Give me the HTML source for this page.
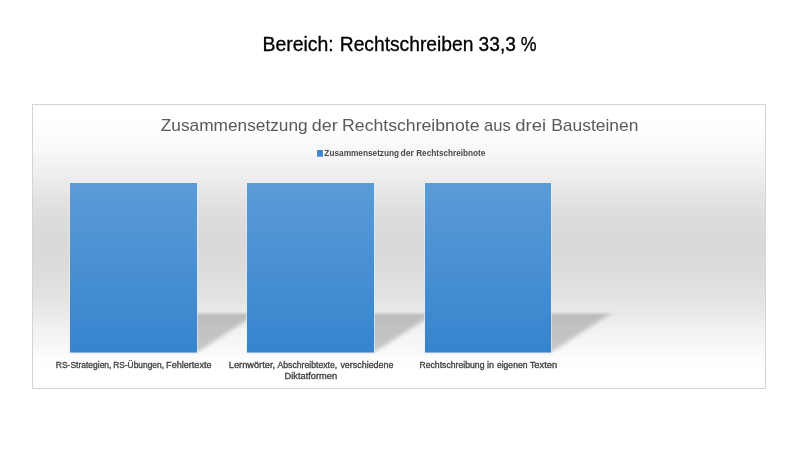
<!DOCTYPE html>
<html lang="de">
<head>
<meta charset="utf-8">
<title>Bereich: Rechtschreiben 33,3 %</title>
<style>
html,body{margin:0;padding:0;background:#fff;}
body{width:807px;height:475px;overflow:hidden;position:relative;font-family:"Liberation Sans",sans-serif;}
svg{position:absolute;left:0;top:0;display:block;}
text{font-family:"Liberation Sans",sans-serif;}
</style>
</head>
<body>
<svg width="807" height="475" viewBox="0 0 807 475">
  <defs>
    <linearGradient id="bg" gradientUnits="userSpaceOnUse" x1="0" y1="105" x2="0" y2="388">
      <stop offset="0" stop-color="#ffffff"/>
      <stop offset="0.0530" stop-color="#ffffff"/>
      <stop offset="0.1060" stop-color="#fcfcfc"/>
      <stop offset="0.1590" stop-color="#f8f8f8"/>
      <stop offset="0.2120" stop-color="#f2f2f2"/>
      <stop offset="0.2650" stop-color="#ececec"/>
      <stop offset="0.3180" stop-color="#e5e5e5"/>
      <stop offset="0.3710" stop-color="#dfdfdf"/>
      <stop offset="0.4240" stop-color="#dbdbdb"/>
      <stop offset="0.4770" stop-color="#dadada"/>
      <stop offset="0.5300" stop-color="#dadada"/>
      <stop offset="0.5830" stop-color="#dcdcdc"/>
      <stop offset="0.6360" stop-color="#e0e0e0"/>
      <stop offset="0.6890" stop-color="#e4e4e4"/>
      <stop offset="0.7420" stop-color="#ebebeb"/>
      <stop offset="0.7950" stop-color="#f2f2f2"/>
      <stop offset="0.8480" stop-color="#f7f7f7"/>
      <stop offset="0.9010" stop-color="#fdfdfd"/>
      <stop offset="0.9540" stop-color="#ffffff"/>
      <stop offset="1" stop-color="#ffffff"/>
    </linearGradient>
    <linearGradient id="bar" x1="0" y1="0" x2="0" y2="1">
      <stop offset="0" stop-color="#5b9bd7"/>
      <stop offset="1" stop-color="#3684ce"/>
    </linearGradient>
    <filter id="blur" x="-30%" y="-30%" width="160%" height="160%">
      <feGaussianBlur stdDeviation="3"/>
    </filter>
    <filter id="blur2" filterUnits="userSpaceOnUse" x="40" y="290" width="620" height="90">
      <feGaussianBlur stdDeviation="1.3"/>
    </filter>
  </defs>

  <rect x="0" y="0" width="807" height="475" fill="#ffffff"/>
  <g class="nontext">
  <rect x="32.5" y="104.5" width="733" height="284" fill="url(#bg)" stroke="#d4d4d4" stroke-width="1"/>
  <rect x="317.1" y="150" width="5.8" height="6.7" fill="#4085cf"/>
  <g fill="#000000" fill-opacity="0.2" filter="url(#blur2)">
    <g transform="translate(70 352.5) matrix(1 0 -0.354 0.2301 0 0)"><rect x="0" y="-169.5" width="127" height="169.5" filter="url(#blur)"/></g>
    <g transform="translate(247 352.5) matrix(1 0 -0.354 0.2301 0 0)"><rect x="0" y="-169.5" width="127" height="169.5" filter="url(#blur)"/></g>
    <g transform="translate(425 352.5) matrix(1 0 -0.354 0.2301 0 0)"><rect x="0" y="-169.5" width="126" height="169.5" filter="url(#blur)"/></g>
  </g>
  <g fill="none" stroke="#e4f1fc" stroke-width="1" stroke-opacity="0.55">
    <rect x="69.5" y="182.5" width="128" height="170.5"/>
    <rect x="246.5" y="182.5" width="128" height="170.5"/>
    <rect x="424.5" y="182.5" width="127" height="170.5"/>
  </g>
  <rect x="70" y="183" width="127" height="169.5" fill="url(#bar)"/>
  <rect x="247" y="183" width="127" height="169.5" fill="url(#bar)"/>
  <rect x="425" y="183" width="126" height="169.5" fill="url(#bar)"/>
  </g>
  <text y="51" font-size="19.4" fill="#000000" stroke="#000000" stroke-width="0.3"><tspan id="w0" x="262.44" textLength="71.27" lengthAdjust="spacingAndGlyphs">Bereich:</tspan> <tspan id="w1" x="339.76" textLength="133.62" lengthAdjust="spacingAndGlyphs">Rechtschreiben</tspan> <tspan id="w2" x="478.61" textLength="37.25" lengthAdjust="spacingAndGlyphs">33,3</tspan> <tspan id="w3" x="520.84" textLength="15.83" lengthAdjust="spacingAndGlyphs">%</tspan></text>
  <text y="131" font-size="17.0" fill="#5a5a5a"><tspan id="w4" x="160.72" textLength="147.00" lengthAdjust="spacingAndGlyphs">Zusammensetzung</tspan> <tspan id="w5" x="311.85" textLength="25.89" lengthAdjust="spacingAndGlyphs">der</tspan> <tspan id="w6" x="342.10" textLength="137.38" lengthAdjust="spacingAndGlyphs">Rechtschreibnote</tspan> <tspan id="w7" x="483.94" textLength="26.75" lengthAdjust="spacingAndGlyphs">aus</tspan> <tspan id="w8" x="515.36" textLength="30.79" lengthAdjust="spacingAndGlyphs">drei</tspan> <tspan id="w9" x="551.26" textLength="87.13" lengthAdjust="spacingAndGlyphs">Bausteinen</tspan></text>
  <text y="156" font-size="8.6" fill="#484848" font-weight="bold"><tspan id="w10" x="324.37" textLength="74.78" lengthAdjust="spacingAndGlyphs">Zusammensetzung</tspan> <tspan id="w11" x="400.62" textLength="13.28" lengthAdjust="spacingAndGlyphs">der</tspan> <tspan id="w12" x="416.19" textLength="69.21" lengthAdjust="spacingAndGlyphs">Rechtschreibnote</tspan></text>
  <text y="368" font-size="8.3" fill="#404040" stroke="#404040" stroke-width="0.3"><tspan id="w13" x="55.78" textLength="55.69" lengthAdjust="spacingAndGlyphs">RS-Strategien,</tspan> <tspan id="w14" x="113.19" textLength="50.79" lengthAdjust="spacingAndGlyphs">RS-Übungen,</tspan> <tspan id="w15" x="166.13" textLength="45.36" lengthAdjust="spacingAndGlyphs">Fehlertexte</tspan></text>
  <text y="368" font-size="8.3" fill="#404040" stroke="#404040" stroke-width="0.3"><tspan id="w16" x="228.78" textLength="46.29" lengthAdjust="spacingAndGlyphs">Lernwörter,</tspan> <tspan id="w17" x="277.43" textLength="59.85" lengthAdjust="spacingAndGlyphs">Abschreibtexte,</tspan> <tspan id="w18" x="340.42" textLength="53.04" lengthAdjust="spacingAndGlyphs">verschiedene</tspan></text>
  <text y="379" font-size="8.3" fill="#404040" stroke="#404040" stroke-width="0.3"><tspan id="w19" x="284.48" textLength="52.76" lengthAdjust="spacingAndGlyphs">Diktatformen</tspan></text>
  <text y="368" font-size="8.3" fill="#404040" stroke="#404040" stroke-width="0.3"><tspan id="w20" x="419.44" textLength="65.08" lengthAdjust="spacingAndGlyphs">Rechtschreibung</tspan> <tspan id="w21" x="486.93" textLength="6.92" lengthAdjust="spacingAndGlyphs">in</tspan> <tspan id="w22" x="496.94" textLength="30.50" lengthAdjust="spacingAndGlyphs">eigenen</tspan> <tspan id="w23" x="529.69" textLength="27.53" lengthAdjust="spacingAndGlyphs">Texten</tspan></text>
</svg>
</body>
</html>
